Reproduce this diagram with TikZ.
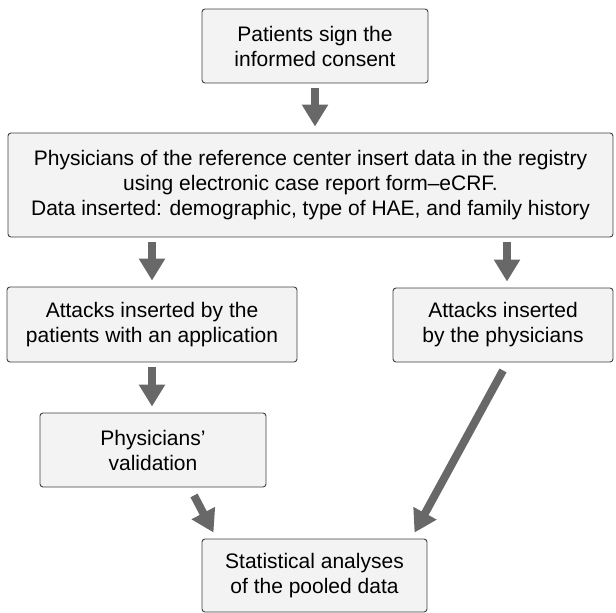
\documentclass[tikz,border=0pt]{standalone}
\usepackage{fontspec}
\setmainfont{Liberation Sans}
\usetikzlibrary{arrows.meta}
\definecolor{boxfill}{HTML}{F3F3F3}
\definecolor{boxline}{HTML}{404040}
\definecolor{arrowgray}{HTML}{686868}
\begin{document}
\begin{tikzpicture}[x=1pt,y=-1pt,
    box/.style={draw=boxline,fill=boxfill,line width=0.9pt,rounded corners=3pt,align=center,inner sep=0pt,
        font=\fontsize{21}{25}\selectfont},
    flow/.style={draw=arrowgray,line width=8pt,-{Triangle[width=25pt,length=22pt]},shorten <=5pt,shorten >=6pt}]
    \useasboundingbox (0,0) rectangle (616,613);
    \node [box,minimum width=226pt,minimum height=74pt] (consent) at (315,46) {Patients sign the\\informed consent};
    \node [box,minimum width=605pt,minimum height=104pt] (registry) at (310.5,185) {Physicians of the reference center insert data in the registry\\using electronic case report form--eCRF.\\Data inserted: demographic, type of HAE, and family history};
    \node [box,minimum width=290pt,minimum height=75pt] (app) at (152,324.5) {Attacks inserted by the\\patients with an application};
    \node [box,minimum width=220pt,minimum height=74pt] (phys) at (503,325) {Attacks inserted\\by the physicians};
    \node [box,minimum width=226pt,minimum height=74pt] (valid) at (153,450) {Physicians'\\validation};
    \node [box,minimum width=225pt,minimum height=73pt] (stats) at (314.5,575.5) {Statistical analyses\\of the pooled data};
    \draw [flow](consent.south)--(consent.south |- registry.north);
    \draw [flow](app.north |- registry.south)--(app.north);
    \draw [flow]([xshift=4pt]phys.north |- registry.south)--([xshift=4pt]phys.north);
    \draw [flow](app.south)--(app.south |- valid.north);
    \draw [flow,shorten <=0pt,shorten >=0pt]([xshift=41pt,yshift=-8pt]valid.south)--([xshift=-101pt,yshift=6pt]stats.north);
    \draw [flow,shorten <=0pt,shorten >=0pt]([yshift=-8pt]phys.south)--([xshift=100pt,yshift=6pt]stats.north);
\end{tikzpicture}
\end{document}
